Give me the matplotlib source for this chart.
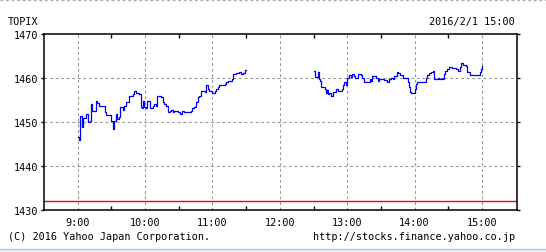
import matplotlib
matplotlib.use("Agg")
import matplotlib.pyplot as plt
from matplotlib.lines import Line2D

# ---- data ----
title_left = "TOPIX"
title_right = "2016/2/1 15:00"
footer_left = "(C) 2016 Yahoo Japan Corporation."
footer_right = "http://stocks.finance.yahoo.co.jp"
prev_close = 1432.0

x_tick_labels = ["9:00", "10:00", "11:00", "12:00", "13:00", "14:00", "15:00"]
y_ticks = [1430, 1440, 1450, 1460, 1470]

am_times = ["9:00", "9:01", "9:02", "9:04", "9:05", "9:07", "9:09", "9:11", "9:12", "9:13",
            "9:16", "9:17", "9:19", "9:24", "9:25", "9:27", "9:30", "9:31", "9:32", "9:34",
            "9:35", "9:37", "9:38", "9:40", "9:41", "9:43", "9:46", "9:49", "9:50", "9:52",
            "9:55", "9:56", "9:57", "9:58", "9:59", "10:01", "10:02", "10:04", "10:07", "10:08",
            "10:10", "10:11", "10:13", "10:14", "10:16", "10:17", "10:19", "10:20", "10:22", "10:23",
            "10:25", "10:26", "10:29", "10:31", "10:33", "10:35", "10:41", "10:42", "10:44", "10:45",
            "10:47", "10:48", "10:50", "10:53", "10:54", "10:56", "10:57", "11:00", "11:02", "11:03",
            "11:05", "11:06", "11:11", "11:12", "11:14", "11:17", "11:18", "11:21", "11:24", "11:25",
            "11:27", "11:29", "11:30"]
am_values = [1446.7, 1445.9, 1451.4, 1448.8, 1450.8, 1451.8, 1450.1, 1450.3, 1454.1, 1452.6,
             1454.8, 1454.4, 1453.7, 1452.2, 1451.6, 1451.5, 1450.3, 1448.4, 1450.3, 1451.8,
             1450.7, 1451.2, 1453.3, 1452.8, 1453.6, 1454.5, 1456.0, 1456.4, 1457.1, 1456.7,
             1456.4, 1453.3, 1453.1, 1454.8, 1453.3, 1453.1, 1454.8, 1453.1, 1453.7, 1454.1,
             1453.7, 1455.8, 1456.0, 1455.6, 1454.6, 1454.1, 1453.7, 1452.2, 1452.6, 1452.8,
             1452.2, 1452.6, 1452.2, 1451.8, 1452.6, 1452.2, 1452.6, 1453.1, 1453.3, 1454.5,
             1455.6, 1456.0, 1457.1, 1456.9, 1458.3, 1457.5, 1457.1, 1456.7, 1457.1, 1457.5,
             1457.9, 1458.3, 1458.6, 1459.2, 1459.4, 1459.8, 1460.8, 1461.1, 1461.4, 1460.8,
             1461.1, 1461.9, 1461.9]

pm_times = ["12:30", "12:31", "12:34", "12:35", "12:36", "12:37", "12:40", "12:41", "12:42", "12:43",
            "12:44", "12:46", "12:47", "12:50", "12:52", "12:55", "12:56", "12:57", "12:59", "13:00",
            "13:02", "13:03", "13:04", "13:06", "13:07", "13:09", "13:10", "13:12", "13:13", "13:15",
            "13:18", "13:20", "13:21", "13:22", "13:24", "13:26", "13:27", "13:28", "13:33", "13:35",
            "13:37", "13:39", "13:41", "13:42", "13:44", "13:45", "13:47", "13:50", "13:54", "13:55",
            "13:56", "13:57", "14:00", "14:01", "14:02", "14:07", "14:09", "14:10", "14:11", "14:13",
            "14:15", "14:16", "14:17", "14:21", "14:22", "14:24", "14:25", "14:26", "14:27", "14:29",
            "14:31", "14:33", "14:37", "14:39", "14:40", "14:41", "14:43", "14:46", "14:47", "14:49",
            "14:57", "14:58", "14:59", "15:00"]
pm_values = [1461.5, 1460.3, 1461.3, 1459.8, 1459.4, 1457.9, 1457.6, 1456.7, 1457.2, 1456.4,
             1456.7, 1456.0, 1456.9, 1457.6, 1457.0, 1457.6, 1458.4, 1459.0, 1458.4, 1459.9,
             1460.7, 1460.3, 1460.9, 1460.5, 1459.9, 1459.9, 1460.9, 1460.7, 1459.9, 1459.0,
             1459.2, 1459.7, 1459.4, 1460.5, 1460.4, 1459.9, 1459.3, 1459.7, 1459.6, 1459.0,
             1459.7, 1460.1, 1459.7, 1460.4, 1461.3, 1461.1, 1460.6, 1459.9, 1459.0, 1457.9,
             1456.9, 1456.7, 1457.6, 1458.6, 1459.2, 1459.0, 1459.1, 1459.9, 1460.6, 1461.1,
             1461.4, 1461.6, 1459.8, 1459.9, 1459.8, 1459.9, 1459.8, 1460.9, 1461.6, 1462.0,
             1462.4, 1462.2, 1462.0, 1461.6, 1462.4, 1463.4, 1462.9, 1462.8, 1461.3, 1460.7,
             1460.7, 1461.3, 1462.0, 1462.8]


def to_hours(t):
    h, m = t.split(":")
    return int(h) + int(m) / 60.0


am_x = [to_hours(t) for t in am_times]
pm_x = [to_hours(t) for t in pm_times]
x_ticks = [to_hours(t) for t in x_tick_labels]

W, H = 546, 253
fig = plt.figure(figsize=(W / 100, H / 100), dpi=100)
fig.patch.set_facecolor("white")

mono = "DejaVu Sans Mono"
fs = 7.3

ax = fig.add_axes([44 / W, 1 - 211 / H, (517 - 44) / W, (211 - 35) / H])
ax.set_xlim(8.5, 15.52)
ax.set_ylim(1430, 1470)

ax.step(am_x, am_values, where="post", color="#0000ff", lw=0.9)
ax.step(pm_x, pm_values, where="post", color="#0000ff", lw=0.9)
ax.axhline(prev_close, color="#ff0000", lw=1.0)

for xv in x_ticks:
    ax.axvline(xv, color="#999999", lw=0.8, ls=(0, (2.5, 2.5)), zorder=0)
for yv in y_ticks[1:-1]:
    ax.axhline(yv, color="#999999", lw=0.8, ls=(0, (2.5, 2.5)), zorder=0)

for s in ax.spines.values():
    s.set_color("black")
    s.set_linewidth(1.1)

ax.set_xticks(x_ticks)
ax.set_xticklabels(x_tick_labels, fontfamily=mono, fontsize=fs)
ax.set_xticks([x + 0.5 for x in x_ticks[:-1]], minor=True)
ax.set_yticks(y_ticks)
ax.set_yticklabels([str(v) for v in y_ticks], fontfamily=mono, fontsize=fs)
ax.tick_params(axis="x", which="major", length=0, pad=5)
ax.tick_params(axis="x", which="minor", direction="in", length=3, top=True, bottom=True, width=1)
ax.tick_params(axis="y", which="major", direction="out", length=2, pad=2,
               left=True, right=True, width=1)

fig.text(8 / W, 1 - 22 / H, title_left, fontfamily=mono, fontsize=fs, ha="left", va="center")
fig.text(515 / W, 1 - 22 / H, title_right, fontfamily=mono, fontsize=fs, ha="right", va="center")
fig.text(8 / W, 1 - 237 / H, footer_left, fontfamily=mono, fontsize=fs, ha="left", va="center")
fig.text(515 / W, 1 - 237 / H, footer_right, fontfamily=mono, fontsize=fs, ha="right", va="center")

# frame decorations
fig.add_artist(Line2D([0, 1], [1 - 0.5 / H, 1 - 0.5 / H], color="#aaaaaa", lw=1,
                      ls=(0, (2, 2)), transform=fig.transFigure))
fig.add_artist(plt.Rectangle((0, 0), 1, 3 / H, transform=fig.transFigure,
                             facecolor="#eef5fc", edgecolor="none"))
fig.add_artist(Line2D([0, 1], [3 / H, 3 / H], color="#9cc8f0", lw=1,
                      transform=fig.transFigure))

fig.savefig("out.png", dpi=100, facecolor="white")
